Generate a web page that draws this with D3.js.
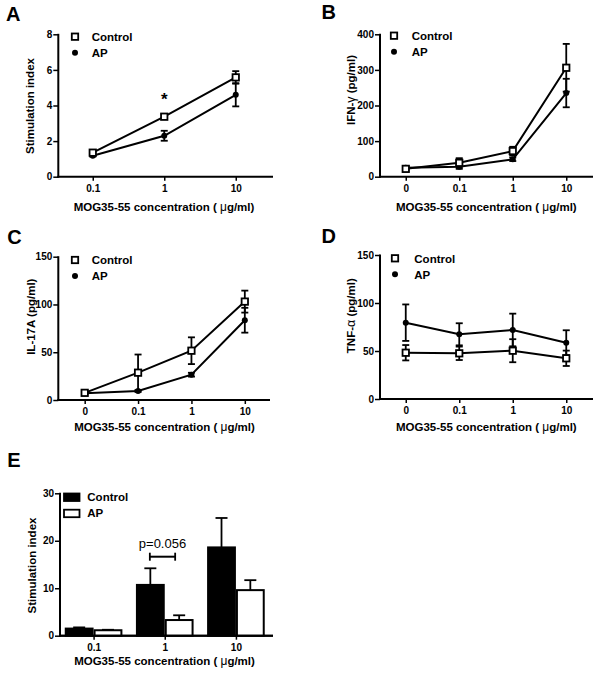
<!DOCTYPE html>
<html><head><meta charset="utf-8">
<script src="https://cdn.jsdelivr.net/npm/d3@7"></script>
<style>
html,body{margin:0;padding:0;background:#fff;}
svg{display:block;font-family:"Liberation Sans",Arial,sans-serif;}
</style></head>
<body><svg id="chart" width="600" height="673"></svg>
<script>
// ---- data ----
const concA = ["0.1", "1", "10"];
const concBCD = ["0", "0.1", "1", "10"];
const concE = ["0.1", "1", "10"];
const seriesNames = ["Control", "AP"];

const aControl = [1.35, 3.37, 5.58];
const aControlErr = [0.1, 0.12, 0.35];
const aAP = [1.18, 2.3, 4.6];
const aAPErr = [0.05, 0.28, 0.65];
const aTicks = [0, 2, 4, 6, 8];

const bControl = [22, 39, 72, 306];
const bControlErr = [6, 13, 12, 67];
const bAP = [25, 28, 49, 235];
const bAPErr = [4, 6, 5, 40];
const bTicks = [0, 100, 200, 300, 400];

const cControl = [7.5, 28.6, 51.6, 103];
const cControlErr = [2, 19, 14, 11.5];
const cAP = [7, 9.4, 26.5, 83.5];
const cAPErr = [1, 1, 2, 13];
const cTicks = [0, 50, 100, 150];

const dControl = [48.2, 47.6, 50.3, 42.4];
const dControlErr = [8, 7, 12, 8];
const dAP = [79.5, 67.4, 71.9, 58.6];
const dAPErr = [19, 11.5, 17, 13];
const dTicks = [0, 50, 100, 150];

const eControl = [1.5, 10.7, 18.6];
const eControlErr = [0.25, 3.5, 6.2];
const eAP = [1.15, 3.3, 9.6];
const eAPErr = [0.1, 1.0, 2.1];
const eTicks = [0, 10, 20, 30];

const xTitle = "MOG35-55 concentration ( ";
const xTitleUnit = "g/ml)";

const svg = d3.select("#chart");
const FONT = '"Liberation Sans",Arial,sans-serif';

function panelLetter(t, x, y) {
  svg.append("text").attr("x", x).attr("y", y).attr("font-size", 20)
    .attr("font-weight", "bold").text(t);
}

function xTitleText(cx, by) {
  const t = svg.append("text").attr("x", cx).attr("y", by).attr("text-anchor", "middle")
    .attr("font-size", 11.5).attr("font-weight", "bold");
  t.append("tspan").text(xTitle);
  t.append("tspan").attr("font-weight", "normal").attr("font-size", 12).text("\u03bc");
  t.append("tspan").text(xTitleUnit);
}

function yTitleText(parts, bx, cy) {
  const t = svg.append("text").attr("transform", `translate(${bx},${cy}) rotate(-90)`)
    .attr("text-anchor", "middle").attr("font-size", 11.5).attr("font-weight", "bold");
  parts.forEach(p => {
    const s = t.append("tspan").text(p.t);
    if (p.normal) s.attr("font-weight", "normal").attr("font-size", 12.5);
  });
}

function axes(x, y, ticks, axisX, y0, yTop, xEnd) {
  const ya = svg.append("g").attr("transform", `translate(${axisX},0)`)
    .call(d3.axisLeft(y).tickValues(ticks).tickSize(5).tickSizeOuter(0).tickPadding(1));
  ya.select(".domain").remove();
  ya.selectAll(".tick line").attr("stroke", "#000").attr("stroke-width", 1.5);
  ya.selectAll(".tick text").attr("font-size", 10).attr("font-weight", "bold")
    .attr("font-family", FONT).attr("fill", "#000");
  svg.append("line").attr("x1", axisX).attr("x2", axisX).attr("y1", y0 + 1).attr("y2", yTop - 0.5)
    .attr("stroke", "#000").attr("stroke-width", 2);
  const xa = svg.append("g").attr("transform", `translate(0,${y0})`)
    .call(d3.axisBottom(x).tickSize(4).tickSizeOuter(0).tickPadding(4));
  xa.select(".domain").remove();
  xa.selectAll(".tick line").attr("stroke", "#000").attr("stroke-width", 1.5);
  xa.selectAll(".tick text").attr("font-size", 10).attr("font-weight", "bold")
    .attr("font-family", FONT).attr("fill", "#000");
  svg.append("line").attr("x1", axisX - 1).attr("x2", xEnd).attr("y1", y0).attr("y2", y0)
    .attr("stroke", "#000").attr("stroke-width", 2);
}

function legendLine(lx, ly, tx) {
  svg.append("rect").attr("x", lx - 3.2).attr("y", ly - 3.2).attr("width", 6.4).attr("height", 6.4)
    .attr("fill", "#fff").attr("stroke", "#000").attr("stroke-width", 1.8);
  svg.append("text").attr("x", tx).attr("y", ly + 4.2).attr("font-size", 11.5).attr("font-weight", "bold").text(seriesNames[0]);
  svg.append("circle").attr("cx", lx).attr("cy", ly + 16).attr("r", 3).attr("fill", "#000");
  svg.append("text").attr("x", tx).attr("y", ly + 16 + 4.2).attr("font-size", 11.5).attr("font-weight", "bold").text(seriesNames[1]);
}

function linePanel(o) {
  const x = d3.scalePoint().domain(o.cats).range(o.xRange).padding(0.5);
  const y = d3.scaleLinear().domain([0, o.ticks[o.ticks.length - 1]]).range([o.y0, o.yTop]);
  axes(x, y, o.ticks, o.axisX, o.y0, o.yTop, o.xEnd);
  const series = [
    {v: o.ap, e: o.apErr, type: "dot"},
    {v: o.ctrl, e: o.ctrlErr, type: "sq"}
  ];
  const line = d3.line().x((d, i) => x(o.cats[i])).y(d => y(d));
  series.forEach(s => {
    svg.append("path").attr("d", line(s.v)).attr("fill", "none").attr("stroke", "#000").attr("stroke-width", 2);
  });
  series.forEach(s => {
    s.v.forEach((v, i) => {
      const cx = x(o.cats[i]);
      const yt = y(v + s.e[i]), yb = y(Math.max(0, v - s.e[i]));
      svg.append("line").attr("x1", cx).attr("x2", cx).attr("y1", yt).attr("y2", yb).attr("stroke", "#000").attr("stroke-width", 1.8);
      [yt, yb].forEach(yy => svg.append("line").attr("x1", cx - 3.5).attr("x2", cx + 3.5).attr("y1", yy).attr("y2", yy)
        .attr("stroke", "#000").attr("stroke-width", 1.8));
    });
  });
  series.forEach(s => {
    s.v.forEach((v, i) => {
      const cx = x(o.cats[i]), cy = y(v);
      if (s.type === "sq") {
        svg.append("rect").attr("x", cx - 3.2).attr("y", cy - 3.2).attr("width", 6.4).attr("height", 6.4)
          .attr("fill", "#fff").attr("stroke", "#000").attr("stroke-width", 1.8);
      } else {
        svg.append("circle").attr("cx", cx).attr("cy", cy).attr("r", 3).attr("fill", "#000");
      }
    });
  });
  legendLine(o.leg[0], o.leg[1], o.leg[2]);
  return {x, y};
}

// Panel A
panelLetter("A", 6, 20.7);
const pa = linePanel({cats: concA, xRange: [57, 271.5], axisX: 58.3, y0: 176.7, yTop: 34.3, xEnd: 273,
  ticks: aTicks, ctrl: aControl, ctrlErr: aControlErr, ap: aAP, apErr: aAPErr, leg: [75, 36.7, 91.7]});
svg.append("text").attr("x", pa.x("1")).attr("y", pa.y(4.5) + 8).attr("text-anchor", "middle")
  .attr("font-size", 17).attr("font-weight", "bold").text("*");
xTitleText(164, 211);
yTitleText([{t: "Stimulation index"}], 33.5, 106);

// Panel B
panelLetter("B", 321.5, 19.3);
linePanel({cats: concBCD, xRange: [379, 593], axisX: 380, y0: 176.7, yTop: 34.3, xEnd: 593,
  ticks: bTicks, ctrl: bControl, ctrlErr: bControlErr, ap: bAP, apErr: bAPErr, leg: [394, 35.7, 411.7]});
xTitleText(486.3, 211);
yTitleText([{t: "IFN-"}, {t: "\u03b3", normal: true}, {t: " (pg/ml)"}], 354.5, 90);

// Panel C
panelLetter("C", 7.3, 244);
linePanel({cats: concBCD, xRange: [58, 271.5], axisX: 58.3, y0: 400, yTop: 256.7, xEnd: 270,
  ticks: cTicks, ctrl: cControl, ctrlErr: cControlErr, ap: cAP, apErr: cAPErr, leg: [75, 260, 91.7]});
xTitleText(164.5, 431);
yTitleText([{t: "IL-17A (pg/ml)"}], 34.5, 316.7);

// Panel D
panelLetter("D", 321.5, 243.3);
linePanel({cats: concBCD, xRange: [379, 593], axisX: 380, y0: 399, yTop: 255, xEnd: 593,
  ticks: dTicks, ctrl: dControl, ctrlErr: dControlErr, ap: dAP, apErr: dAPErr, leg: [395, 258.3, 414.3]});
xTitleText(486.3, 431);
yTitleText([{t: "TNF-"}, {t: "\u03b1", normal: true}, {t: " (pg/ml)"}], 354.5, 315.7);

// Panel E (bars)
panelLetter("E", 7.3, 466.7);
(function () {
  const axisX = 60, y0 = 635.7, yTop = 493.3, xEnd = 273;
  const xg = d3.scaleBand().domain(concE).range([58, 271.5]).paddingInner(0.19).paddingOuter(0.095);
  const xs = d3.scaleBand().domain(seriesNames).range([0, xg.bandwidth()]);
  const xp = d3.scalePoint().domain(concE).range([58, 271.5]).padding(0.5);
  const y = d3.scaleLinear().domain([0, 30]).range([y0, yTop]);
  axes(xp, y, eTicks, axisX, y0, yTop, xEnd);
  // remove tick marks on x axis for bars? keep labels only
  const data = [
    {name: "Control", v: eControl, e: eControlErr, fill: "#000"},
    {name: "AP", v: eAP, e: eAPErr, fill: "#fff"}
  ];
  data.forEach(s => {
    s.v.forEach((v, i) => {
      const bx = xg(concE[i]) + xs(s.name), bw = xs.bandwidth();
      const cx = bx + bw / 2;
      const yt = y(v + s.e[i]);
      svg.append("line").attr("x1", cx).attr("x2", cx).attr("y1", y(v)).attr("y2", yt).attr("stroke", "#000").attr("stroke-width", 1.8);
      svg.append("line").attr("x1", cx - 6).attr("x2", cx + 6).attr("y1", yt).attr("y2", yt).attr("stroke", "#000").attr("stroke-width", 1.8);
      svg.append("rect").attr("x", bx + 1).attr("y", y(v)).attr("width", bw - 2).attr("height", y0 - y(v))
        .attr("fill", s.fill).attr("stroke", "#000").attr("stroke-width", 2);
    });
  });
  // redraw x axis line on top
  svg.append("line").attr("x1", axisX - 1).attr("x2", xEnd).attr("y1", y0).attr("y2", y0).attr("stroke", "#000").attr("stroke-width", 2);
  // legend
  svg.append("rect").attr("x", 64).attr("y", 493.5).attr("width", 15.5).attr("height", 7.5).attr("fill", "#000").attr("stroke", "#000").attr("stroke-width", 1.8);
  svg.append("text").attr("x", 87.3).attr("y", 501).attr("font-size", 11.5).attr("font-weight", "bold").text(seriesNames[0]);
  svg.append("rect").attr("x", 64).attr("y", 509.7).attr("width", 15.5).attr("height", 7.5).attr("fill", "#fff").attr("stroke", "#000").attr("stroke-width", 1.8);
  svg.append("text").attr("x", 87.3).attr("y", 517.3).attr("font-size", 11.5).attr("font-weight", "bold").text(seriesNames[1]);
  // significance bracket
  const c1 = xg("1") + xs("Control") + xs.bandwidth() / 2;
  const a1 = xg("1") + xs("AP") + xs.bandwidth() / 2;
  const by = 556.7;
  svg.append("line").attr("x1", c1 - 0.5).attr("x2", a1 - 4).attr("y1", by).attr("y2", by).attr("stroke", "#000").attr("stroke-width", 2);
  [c1 - 0.5, a1 - 4].forEach(xx => svg.append("line").attr("x1", xx).attr("x2", xx).attr("y1", by - 4).attr("y2", by + 4).attr("stroke", "#000").attr("stroke-width", 1.8));
  svg.append("text").attr("x", (c1 + a1 - 4.5) / 2).attr("y", 547.7).attr("text-anchor", "middle").attr("font-size", 13).text("p=0.056");
  xTitleText(164.5, 665);
  yTitleText([{t: "Stimulation index"}], 36, 565.5);
})();
</script></body></html>
